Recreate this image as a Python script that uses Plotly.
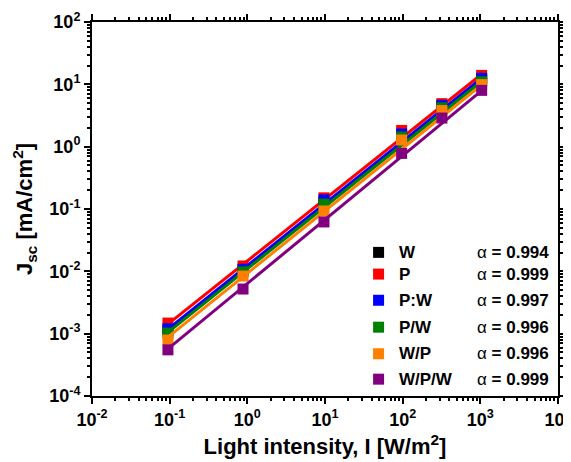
import plotly.graph_objects as go

# ---- data ----
intensity = [0.095, 0.88, 9.7, 97, 320, 1040]
series_names = ["W", "P", "P:W", "P/W", "W/P", "W/P/W"]
alpha_vals = ["0.994", "0.999", "0.997", "0.996", "0.996", "0.999"]
jsc_W = [0.00115, 0.0105, 0.130, 1.50, 4.5, 12.0]
jsc_P = [0.00148, 0.0122, 0.151, 1.82, 4.9, 13.9]
jsc_PW_colon = [0.00120, 0.0108, 0.140, 1.60, 4.6, 12.5]
jsc_PW = [0.00102, 0.0098, 0.120, 1.43, 4.2, 11.0]
jsc_WP = [0.00079, 0.0084, 0.093, 1.28, 3.8, 9.9]
jsc_WPW = [0.00055, 0.0052, 0.062, 0.78, 2.88, 8.0]
# fitted line values at the first and last intensity
fit_W = [0.00112, 11.8]
fit_P = [0.00142, 14.5]
fit_PW_colon = [0.00118, 12.6]
fit_PW = [0.00105, 11.2]
fit_WP = [0.00088, 9.8]
fit_WPW = [0.00057, 7.9]

x_tickvals = [0.01, 0.1, 1, 10, 100, 1000, 10000]
x_ticktext = ["10<sup>-2</sup>", "10<sup>-1</sup>", "10<sup>0</sup>", "10<sup>1</sup>",
              "10<sup>2</sup>", "10<sup>3</sup>", "10<sup>4</sup>"]
y_tickvals = [1e-4, 1e-3, 1e-2, 1e-1, 1, 10, 100]
y_ticktext = ["10<sup>-4</sup>", "10<sup>-3</sup>", "10<sup>-2</sup>", "10<sup>-1</sup>",
              "10<sup>0</sup>", "10<sup>1</sup>", "10<sup>2</sup>"]

colors = ["#000000", "#FF0000", "#0000FF", "#008000", "#FF8000", "#800080"]
all_y = [jsc_W, jsc_P, jsc_PW_colon, jsc_PW, jsc_WP, jsc_WPW]
all_fit = [fit_W, fit_P, fit_PW_colon, fit_PW, fit_WP, fit_WPW]

FONT = "Liberation Sans, Arial, sans-serif"

fig = go.Figure()
for name, ys, fit, c in zip(series_names, all_y, all_fit, colors):
    fig.add_trace(go.Scatter(x=intensity, y=ys, mode="markers", name=name,
                             marker=dict(symbol="square", size=11, color=c),
                             showlegend=False, cliponaxis=False))
    fig.add_trace(go.Scatter(x=[intensity[0], intensity[-1]], y=fit, mode="lines",
                             line=dict(color=c, width=3), showlegend=False))

# custom legend drawn on an overlay unit axis
row_y = [0.384, 0.326, 0.256, 0.184, 0.113, 0.045]
fig.add_trace(go.Scatter(x=[0.615] * len(series_names), y=row_y, mode="markers",
                         marker=dict(symbol="square", size=11, color=colors),
                         xaxis="x2", yaxis="y2", showlegend=False, hoverinfo="skip"))
annotations = []
for name, a, yy in zip(series_names, alpha_vals, row_y):
    annotations.append(dict(x=0.655, y=yy, xref="x2", yref="y2", text="<b>" + name + "</b>",
                            showarrow=False, xanchor="left", yanchor="middle",
                            font=dict(family=FONT, size=17, color="black")))
    annotations.append(dict(x=0.984, y=yy, xref="x2", yref="y2",
                            text="α<b> = " + a + "</b>",
                            showarrow=False, xanchor="right", yanchor="middle",
                            font=dict(family=FONT, size=17, color="black")))

axis_common = dict(showline=True, linecolor="black", linewidth=2, mirror="ticks",
                   ticks="outside", ticklen=6, tickwidth=2, tickcolor="black",
                   showgrid=False, zeroline=False, automargin=False,
                   ticklabeloverflow="allow",
                   tickfont=dict(family=FONT, size=18, color="black", weight="bold"),
                   minor=dict(ticks="outside", ticklen=3, tickwidth=1.5, tickcolor="black",
                              dtick="D1", showgrid=False))

fig.update_layout(
    width=563, height=454,
    margin=dict(l=84, r=13, t=14, b=66),
    plot_bgcolor="white", paper_bgcolor="white",
    xaxis=dict(type="log", range=[-2, 4], tickvals=x_tickvals, ticktext=x_ticktext,
               title=dict(text="Light intensity, I [W/m<sup>2</sup>]", standoff=10,
                          font=dict(family=FONT, size=22, color="black", weight="bold")),
               **axis_common),
    yaxis=dict(type="log", range=[-4, 2], tickvals=y_tickvals, ticktext=y_ticktext,
               title=dict(text="J<sub>sc</sub> [mA/cm<sup>2</sup>]", standoff=10,
                          font=dict(family=FONT, size=22, color="black", weight="bold")),
               **axis_common),
    xaxis2=dict(overlaying="x", range=[0, 1], visible=False),
    yaxis2=dict(overlaying="y", range=[0, 1], visible=False),
    annotations=annotations,
    showlegend=False,
)

fig.write_html("out.html")
